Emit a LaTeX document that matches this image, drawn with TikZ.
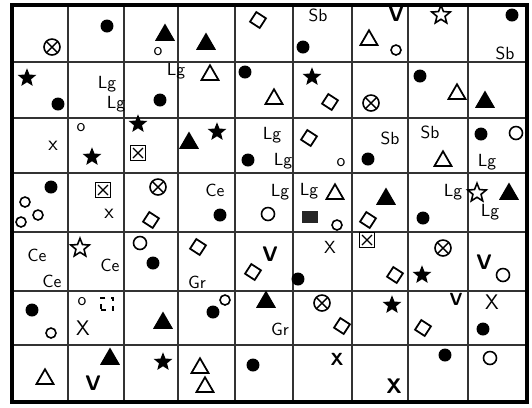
\documentclass[tikz,border=0pt]{standalone}
\usepackage{tikz}
\usetikzlibrary{shapes.geometric,shapes.misc}
\tikzset{
  dotf/.style  ={circle,fill=black,inner sep=0pt,minimum size=2.6mm},
  ring/.style  ={circle,draw=black,line width=0.9pt,inner sep=0pt,minimum size=2mm},
  tri/.style   ={regular polygon,regular polygon sides=3,draw=black,line width=1pt,
                 inner sep=0pt,minimum size=3.9mm},
  trif/.style  ={tri,fill=black},
  dia/.style   ={diamond,draw=black,line width=1pt,inner sep=0pt,minimum size=3.4mm,
                 rotate=12},
  starf/.style ={star,star points=5,star point ratio=2.3,fill=black,inner sep=0pt,
                 minimum size=3.9mm},
  staro/.style ={star,star points=5,star point ratio=2.3,draw=black,line width=0.9pt,
                 inner sep=0pt,minimum size=3.9mm},
  otimes/.style={circle,draw=black,line width=0.9pt,inner sep=0pt,minimum size=3.2mm,
                 path picture={\draw[line width=0.8pt]
                   (path picture bounding box.north west) -- (path picture bounding box.south east)
                   (path picture bounding box.north east) -- (path picture bounding box.south west);}},
  boxx/.style  ={rectangle,draw=black,line width=0.9pt,inner sep=0pt,minimum size=3mm,
                 path picture={\draw[line width=0.7pt]
                   ([shift={(0.5mm,-0.5mm)}]path picture bounding box.north west) --
                   ([shift={(-0.5mm,0.5mm)}]path picture bounding box.south east)
                   ([shift={(-0.5mm,-0.5mm)}]path picture bounding box.north east) --
                   ([shift={(0.5mm,0.5mm)}]path picture bounding box.south west);}},
  sqf/.style   ={rectangle,fill=black!85,inner sep=0pt,minimum width=3.2mm,minimum height=2.4mm},
  sqd/.style   ={rectangle,draw=black,dashed,line width=0.8pt,inner sep=0pt,minimum size=2.4mm},
  lbl/.style   ={inner sep=0pt,font=\sffamily},
  big/.style   ={inner sep=0pt,font=\sffamily\large\bfseries},
  grid/.style  ={draw=black!80,line width=0.6pt},
  frame/.style ={draw=black,line width=1.8pt}
}
\begin{document}
\begin{tikzpicture}[x=0.02cm,y=-0.02cm]
\useasboundingbox (0,0) rectangle (532,407);
% grid
\foreach \gx in {68,124,178,235,293,352,408,468}
  \draw[grid] (\gx,5) -- (\gx,402);
\foreach \gy in {62,118,173,232,291,345}
  \draw[grid] (12,\gy) -- (527,\gy);
\draw[frame] (12,5) rectangle (527,402);

% row 1
\node[otimes] (r1a) at (52,47) {};
\node[dotf] (r1b) at (107,26) {};
\node[trif] (r1c) at (165,35) {};
\node[lbl] (r1d) at (158,52) {o};
\node[trif] (r1e) at (206,44) {};
\node[dia] (r1f) at (258,20) {};
\node[lbl] (r1g) at (318,15) {Sb};
\node[dotf] (r1h) at (303,47) {};
\node[big] (r1i) at (396,14) {V};
\node[tri] (r1j) at (369,40) {};
\node[ring] (r1k) at (396,50) {};
\node[staro] (r1l) at (441,15) {};
\node[dotf] (r1m) at (512,15) {};
\node[lbl] (r1n) at (505,53) {Sb};

% row 2
\node[starf] (r2a) at (27,78) {};
\node[dotf] (r2b) at (58,104) {};
\node[lbl] (r2c) at (107,84) {Lg};
\node[lbl] (r2d) at (116,104) {Lg};
\node[lbl] (r2e) at (176,71) {Lg};
\node[dotf] (r2f) at (160,100) {};
\node[tri] (r2g) at (210,75) {};
\node[dotf] (r2h) at (245,72) {};
\node[tri] (r2i) at (274,99) {};
\node[starf] (r2j) at (312,77) {};
\node[dia] (r2k) at (330,102) {};
\node[otimes] (r2l) at (371,103) {};
\node[dotf] (r2m) at (420,76) {};
\node[tri] (r2n) at (457,94) {};
\node[trif] (r2o) at (485,102) {};

% row 3
\node[lbl,font=\sffamily\large] (r3a) at (53,146) {x};
\node[lbl] (r3b) at (81,128) {o};
\node[starf] (r3c) at (92,157) {};
\node[starf] (r3d) at (138,124) {};
\node[boxx] (r3e) at (138,153) {};
\node[trif] (r3f) at (189,143) {};
\node[starf] (r3g) at (217,132) {};
\node[dotf] (r3h) at (248,160) {};
\node[lbl] (r3i) at (272,135) {Lg};
\node[lbl] (r3j) at (283,161) {Lg};
\node[dia] (r3k) at (309,138) {};
\node[lbl] (r3l) at (341,163) {o};
\node[lbl] (r3m) at (390,138) {Sb};
\node[dotf] (r3n) at (368,159) {};
\node[lbl] (r3o) at (430,132) {Sb};
\node[tri] (r3p) at (443,161) {};
\node[dotf] (r3q) at (481,134) {};
\node[ring,minimum size=2.6mm] (r3r) at (516,133) {};
\node[lbl] (r3s) at (487,162) {Lg};

% row 4
\node[dotf] (r4a) at (51,187) {};
\node[ring] (r4b) at (25,202) {};
\node[ring] (r4c) at (21,222) {};
\node[ring] (r4d) at (38,215) {};
\node[boxx] (r4e) at (103,190) {};
\node[lbl,font=\sffamily\large] (r4f) at (109,214) {x};
\node[otimes] (r4g) at (158,187) {};
\node[dia] (r4h) at (151,220) {};
\node[lbl] (r4i) at (215,190) {Ce};
\node[dotf] (r4j) at (220,215) {};
\node[lbl] (r4k) at (280,192) {Lg};
\node[ring,minimum size=2.6mm] (r4l) at (268,214) {};
\node[lbl] (r4m) at (309,191) {Lg};
\node[tri] (r4n) at (335,194) {};
\node[sqf] (r4o) at (310,217) {};
\node[ring] (r4p) at (337,225) {};
\node[trif] (r4q) at (386,199) {};
\node[dia] (r4r) at (368,220) {};
\node[lbl] (r4s) at (453,192) {Lg};
\node[dotf] (r4t) at (423,218) {};
\node[staro] (r4u) at (477,193) {};
\node[trif] (r4v) at (509,194) {};
\node[lbl] (r4w) at (490,212) {Lg};

% row 5
\node[lbl] (r5a) at (37,255) {Ce};
\node[lbl] (r5b) at (52,281) {Ce};
\node[staro] (r5c) at (80,248) {};
\node[lbl] (r5d) at (110,265) {Ce};
\node[ring,minimum size=2.6mm] (r5e) at (140,243) {};
\node[dotf] (r5f) at (153,263) {};
\node[dia] (r5g) at (198,247) {};
\node[lbl] (r5h) at (197,282) {Gr};
\node[big] (r5i) at (270,254) {V};
\node[dia] (r5j) at (253,272) {};
\node[lbl] (r5k) at (330,247) {X};
\node[dotf] (r5l) at (298,279) {};
\node[boxx] (r5m) at (367,240) {};
\node[dia] (r5n) at (395,275) {};
\node[otimes] (r5o) at (443,248) {};
\node[starf] (r5p) at (422,275) {};
\node[big] (r5q) at (484,262) {V};
\node[ring,minimum size=2.6mm] (r5r) at (503,275) {};

% row 6
\node[dotf] (r6a) at (32,310) {};
\node[ring] (r6b) at (51,333) {};
\node[lbl] (r6c) at (82,302) {o};
\node[sqd] (r6d) at (107,304) {};
\node[lbl,font=\sffamily\large] (r6e) at (83,328) {X};
\node[trif] (r6f) at (163,323) {};
\node[dotf] (r6g) at (213,312) {};
\node[ring] (r6h) at (225,300) {};
\node[trif] (r6i) at (266,302) {};
\node[lbl] (r6j) at (280,329) {Gr};
\node[otimes] (r6k) at (322,303) {};
\node[dia] (r6l) at (342,326) {};
\node[starf] (r6m) at (392,305) {};
\node[lbl,font=\sffamily\bfseries] (r6n) at (456,299) {V};
\node[dia] (r6o) at (423,328) {};
\node[lbl,font=\sffamily\large] (r6p) at (492,302) {X};
\node[dotf] (r6q) at (483,329) {};

% row 7
\node[tri] (r7a) at (45,379) {};
\node[big] (r7b) at (93,383) {V};
\node[trif] (r7c) at (110,359) {};
\node[starf] (r7d) at (163,362) {};
\node[tri] (r7e) at (200,368) {};
\node[tri] (r7f) at (205,387) {};
\node[dotf] (r7g) at (253,365) {};
\node[lbl,font=\sffamily\bfseries] (r7h) at (337,359) {X};
\node[big] (r7i) at (394,386) {X};
\node[dotf] (r7j) at (445,355) {};
\node[ring,minimum size=2.6mm] (r7k) at (490,358) {};
\end{tikzpicture}
\end{document}
